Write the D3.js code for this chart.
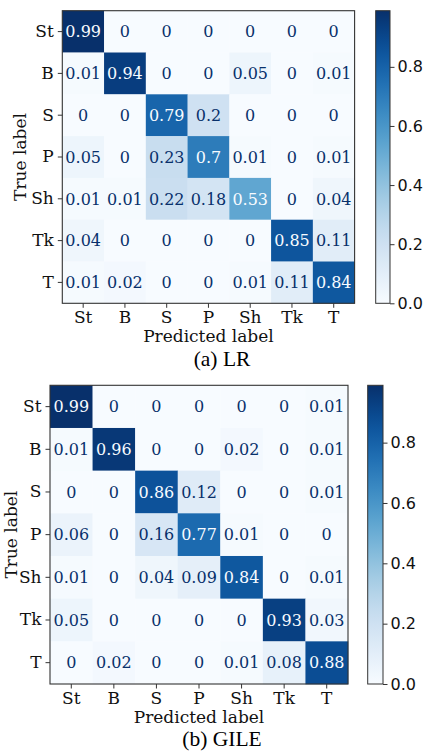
<!DOCTYPE html>
<html>
<head>
<meta charset="utf-8">
<script src="https://cdn.jsdelivr.net/npm/d3@7"></script>
<style>
  body { margin: 0; background: #fff; }
  svg { display: block; }
</style>
</head>
<body>
<svg id="svg" width="424" height="751"></svg>
<script>
var classes = ["St", "B", "S", "P", "Sh", "Tk", "T"];
var cbTicks = [0.0, 0.2, 0.4, 0.6, 0.8];

var lrMatrix = [
  [0.99, 0, 0, 0, 0, 0, 0],
  [0.01, 0.94, 0, 0, 0.05, 0, 0.01],
  [0, 0, 0.79, 0.2, 0, 0, 0],
  [0.05, 0, 0.23, 0.7, 0.01, 0, 0.01],
  [0.01, 0.01, 0.22, 0.18, 0.53, 0, 0.04],
  [0.04, 0, 0, 0, 0, 0.85, 0.11],
  [0.01, 0.02, 0, 0, 0.01, 0.11, 0.84]
];

var gileMatrix = [
  [0.99, 0, 0, 0, 0, 0, 0.01],
  [0.01, 0.96, 0, 0, 0.02, 0, 0.01],
  [0, 0, 0.86, 0.12, 0, 0, 0.01],
  [0.06, 0, 0.16, 0.77, 0.01, 0, 0],
  [0.01, 0, 0.04, 0.09, 0.84, 0, 0.01],
  [0.05, 0, 0, 0, 0, 0.93, 0.03],
  [0, 0.02, 0, 0, 0.01, 0.08, 0.88]
];

var captions = ["(a) LR", "(b) GILE"];

var svg = d3.select("#svg");
var serif = "'DejaVu Serif', serif";
var sans = "'DejaVu Sans', sans-serif";

// pixel boxes
var panels = [
  {m: lrMatrix, cap: captions[0], x: 62.3, y: 10.7, w: 292.3, h: 292.6, cbx: 375.7, cbw: 14.3, capY: 366, ylabX: 26},
  {m: gileMatrix, cap: captions[1], x: 50, y: 385.3, w: 298, h: 298.7, cbx: 367.7, cbw: 15.3, capY: 746, ylabX: 17}
];

panels.forEach(function (p, pi) {
  var m = p.m;
  var flat = [];
  m.forEach(function (row, i) {
    row.forEach(function (v, j) { flat.push({r: i, c: j, v: v}); });
  });
  var vmax = d3.max(flat, function (d) { return d.v; });
  var vmin = d3.min(flat, function (d) { return d.v; });
  var color = d3.scaleSequential(d3.interpolateBlues).domain([vmin, vmax]);
  var thresh = (vmax + vmin) / 2;

  var x = d3.scaleBand().domain(d3.range(classes.length)).range([0, p.w]);
  var y = d3.scaleBand().domain(d3.range(classes.length)).range([0, p.h]);

  var g = svg.append("g").attr("transform", "translate(" + p.x + "," + p.y + ")");

  g.selectAll("rect.cell").data(flat).enter().append("rect")
    .attr("class", "cell")
    .attr("x", function (d) { return x(d.c); })
    .attr("y", function (d) { return y(d.r); })
    .attr("width", x.bandwidth() + 0.3)
    .attr("height", y.bandwidth() + 0.3)
    .attr("fill", function (d) { return color(d.v); });

  g.selectAll("text.val").data(flat).enter().append("text")
    .attr("class", "val")
    .attr("x", function (d) { return x(d.c) + x.bandwidth() / 2; })
    .attr("y", function (d) { return y(d.r) + y.bandwidth() / 2; })
    .attr("dy", "0.36em")
    .attr("text-anchor", "middle")
    .style("font-family", serif)
    .style("font-size", "16px")
    .attr("fill", function (d) { return d.v < thresh ? color(vmax) : color(vmin); })
    .text(function (d) { return d3.format("")(d.v); });

  // frame
  g.append("rect").attr("width", p.w).attr("height", p.h)
    .attr("fill", "none").attr("stroke", "#333").attr("stroke-width", 1.1);

  var xAxis = d3.axisBottom(x).tickFormat(function (i) { return classes[i]; })
    .tickSize(4.5).tickPadding(3);
  var yAxis = d3.axisLeft(y).tickFormat(function (i) { return classes[i]; })
    .tickSize(4.5).tickPadding(4);

  var gx = g.append("g").attr("transform", "translate(0," + p.h + ")").call(xAxis);
  var gy = g.append("g").call(yAxis);
  [gx, gy].forEach(function (a) {
    a.select(".domain").remove();
    a.selectAll("line").attr("stroke", "#333").attr("stroke-width", 1);
    a.selectAll("text").style("font-family", serif).style("font-size", "17px").attr("fill", "#111");
  });

  g.append("text")
    .attr("x", p.w / 2).attr("y", p.h + 39)
    .attr("text-anchor", "middle")
    .style("font-family", serif).style("font-size", "17px").attr("fill", "#111")
    .text("Predicted label");

  svg.append("text")
    .attr("transform", "translate(" + p.ylabX + "," + (p.y + p.h / 2) + ") rotate(-90)")
    .attr("text-anchor", "middle")
    .style("font-family", serif).style("font-size", "17px").attr("fill", "#111")
    .text("True label");

  // colorbar
  var cbScale = d3.scaleLinear().domain([vmin, vmax]).range([p.y + p.h, p.y]);
  var gradId = "grad" + pi;
  var grad = svg.append("defs").append("linearGradient").attr("id", gradId)
    .attr("x1", 0).attr("y1", 1).attr("x2", 0).attr("y2", 0);
  d3.range(0, 1.0001, 0.05).forEach(function (t) {
    grad.append("stop").attr("offset", t)
      .attr("stop-color", color(vmin + t * (vmax - vmin)));
  });
  svg.append("rect")
    .attr("x", p.cbx).attr("y", p.y).attr("width", p.cbw).attr("height", p.h)
    .attr("fill", "url(#" + gradId + ")")
    .attr("stroke", "#333").attr("stroke-width", 1);
  var cbAxis = d3.axisRight(cbScale).tickValues(cbTicks).tickFormat(d3.format(".1f"))
    .tickSize(4.5).tickPadding(3);
  var gcb = svg.append("g").attr("transform", "translate(" + (p.cbx + p.cbw) + ",0)").call(cbAxis);
  gcb.select(".domain").remove();
  gcb.selectAll("line").attr("stroke", "#333");
  gcb.selectAll("text").style("font-family", sans).style("font-size", "16px").attr("fill", "#111");

  svg.append("text")
    .attr("x", 222).attr("y", p.capY)
    .attr("text-anchor", "middle")
    .style("font-family", "'Liberation Serif', 'Times New Roman', serif")
    .style("font-size", "21.5px").attr("fill", "#000")
    .text(p.cap);
});
</script>
</body>
</html>
